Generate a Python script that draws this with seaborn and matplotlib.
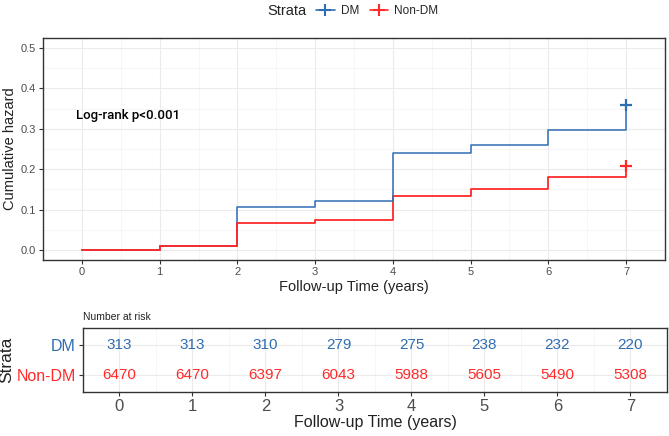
import numpy as np
import pandas as pd
import seaborn as sns
import matplotlib
matplotlib.use("Agg")
import matplotlib.pyplot as plt
from matplotlib.lines import Line2D
from matplotlib import font_manager

sns.set_theme(style="whitegrid")
plt.rcParams['font.family'] = ['Liberation Sans', 'DejaVu Sans']

# data
years = [0, 1, 2, 3, 4, 5, 6, 7]
groups = ['DM', 'Non-DM']
haz_dm = [0.0, 0.010, 0.107, 0.122, 0.239, 0.259, 0.298, 0.358]
haz_non = [0.0, 0.010, 0.066, 0.073, 0.134, 0.152, 0.181, 0.208]
risk_dm = [313, 313, 310, 279, 275, 238, 232, 220]
risk_non = [6470, 6470, 6397, 6043, 5988, 5605, 5490, 5308]

colors = {'DM': '#2f6db3', 'Non-DM': '#ff2a2a'}
grey_txt = '#4d4d4d'

df = pd.DataFrame({
    'time': years * 2,
    'hazard': haz_dm + haz_non,
    'Strata': ['DM'] * len(years) + ['Non-DM'] * len(years),
})
df_cens = df[df.time == years[-1]]

# narrow font for the log-rank note, if there is one
installed = {f.name for f in font_manager.fontManager.ttflist}
if 'Liberation Sans Narrow' in installed:
    note_font, note_size, note_weight = ['Liberation Sans Narrow', 'DejaVu Sans'], 11, 'bold'
else:
    note_font, note_size, note_weight = ['Roboto', 'DejaVu Sans'], 9.5, 'medium'

fig = plt.figure(figsize=(6.69, 4.36), dpi=100)
ax = fig.add_axes([0.0643, 0.4037, 0.9297, 0.5091])
ax2 = fig.add_axes([0.124, 0.1009, 0.873, 0.1468])


def style_axis(a):
    a.set_facecolor('white')
    for s in a.spines.values():
        s.set_visible(True)
        s.set_color('#333333')
        s.set_linewidth(1.0)
    a.grid(True, which='major', color='#ebebeb', linewidth=0.8)
    a.grid(True, which='minor', color='#f3f3f3', linewidth=0.5)
    a.tick_params(which='major', length=3, width=0.8, color='#333333',
                  bottom=True, left=True)
    a.tick_params(which='minor', length=0)


# cumulative hazard curves
sns.lineplot(data=df[df.Strata == 'Non-DM'], x='time', y='hazard', color=colors['Non-DM'],
             drawstyle='steps-post', estimator=None, lw=1.3, ax=ax, legend=False)
sns.lineplot(data=df[df.Strata == 'DM'], x='time', y='hazard', color=colors['DM'],
             drawstyle='steps-post', estimator=None, lw=1.1, ax=ax, legend=False)
sns.lineplot(data=df[(df.Strata == 'Non-DM') & (df.time <= 2)], x='time', y='hazard',
             color=colors['Non-DM'], drawstyle='steps-post', estimator=None, lw=1.3,
             ax=ax, legend=False)
for g in groups:
    d = df_cens[df_cens.Strata == g]
    ax.plot(d.time, d.hazard, marker='+', ms=9, mew=1.6, color=colors[g], ls='none')

ax.set_xlim(-0.35, 7.35)
ax.set_ylim(-0.025, 0.525)
ax.set_xticks(years)
ax.set_yticks([0.0, 0.1, 0.2, 0.3, 0.4, 0.5])
ax.set_yticklabels(['0.0', '0.1', '0.2', '0.3', '0.4', '0.5'])
ax.set_xticks(np.arange(-0.5, 7.6, 0.5), minor=True)
ax.set_yticks(np.arange(0.05, 0.55, 0.1), minor=True)
style_axis(ax)
ax.tick_params(labelsize=8, labelcolor=grey_txt, pad=2)
ax.set_xlabel('Follow-up Time (years)', fontsize=10.5, color='#222222', labelpad=2)
ax.set_ylabel('Cumulative hazard', fontsize=10.5, color='#222222', labelpad=3)
ax.text(-0.07, 0.333, 'Log-rank p<0.001', fontsize=note_size, va='center', ha='left',
        family=note_font, weight=note_weight, color='black')

# legend at top
fig.text(0.458, 0.975, 'Strata', ha='right', va='center', fontsize=10.5, color='#222222')
handles = [Line2D([0], [0], color=colors[g], lw=1.2, marker='+', ms=8, mew=1.5) for g in groups]
fig.legend(handles, groups, loc='center left', bbox_to_anchor=(0.472, 0.975), ncol=2,
           frameon=False, fontsize=8.5, handlelength=1.6, handletextpad=0.5,
           columnspacing=0.9, borderaxespad=0, borderpad=0)

# risk table
rows = {'DM': 1, 'Non-DM': 0}
for t, n in zip(years, risk_dm):
    ax2.text(t, rows['DM'], str(n), ha='center', va='center', fontsize=11, color=colors['DM'])
for t, n in zip(years, risk_non):
    ax2.text(t, rows['Non-DM'], str(n), ha='center', va='center', fontsize=11,
             color=colors['Non-DM'])
ax2.set_xlim(-0.35, 7.35)
ax2.set_ylim(-0.6, 1.6)
ax2.set_xticks(years)
ax2.set_xticks(np.arange(-0.5, 7.6, 0.5), minor=True)
ax2.set_yticks([1, 0])
ax2.set_yticklabels(groups)
style_axis(ax2)
ax2.tick_params(axis='x', labelsize=12, labelcolor=grey_txt, pad=2)
ax2.tick_params(axis='y', labelsize=11.5, pad=2)
for lab, g in zip(ax2.get_yticklabels(), groups):
    lab.set_color(colors[g])
ax2.set_xlabel('Follow-up Time (years)', fontsize=11.5, color='#222222', labelpad=1)
ax2.set_ylabel('Strata', fontsize=12.5, color='#222222', labelpad=2)
ax2.set_title('Number at risk', fontsize=7.5, loc='left', pad=6, color='#222222')

fig.savefig('out.png', dpi=100)
